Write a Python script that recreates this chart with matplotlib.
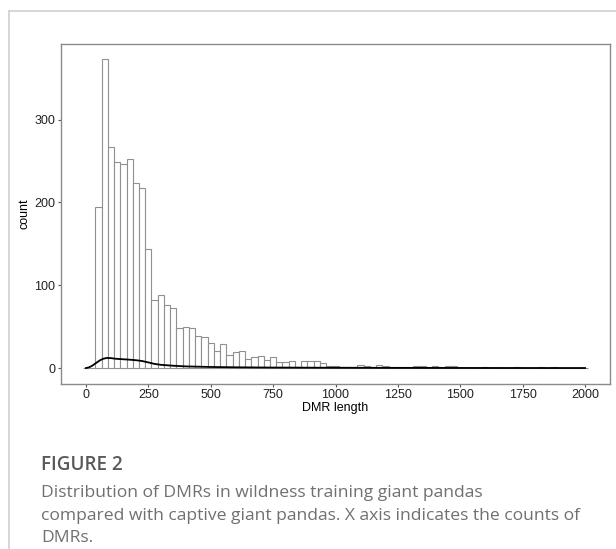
import numpy as np
import matplotlib
matplotlib.use("Agg")
import matplotlib.pyplot as plt
from matplotlib.lines import Line2D

# histogram bins (centre of each 25-wide bin) and counts
bin_centres = list(range(0, 2001, 25))
counts = [0, 0, 195, 373, 267, 249, 246, 253, 223, 217,
          144, 82, 88, 76, 72, 48, 49, 48, 39, 38,
          30, 20, 29, 16, 19, 21, 11, 13, 14, 10,
          13, 7, 7, 8, 1, 8, 8, 8, 6, 3,
          2, 1, 1, 1, 4, 3, 1, 4, 2, 1,
          1, 1, 1, 2, 3, 1, 2, 1, 3, 3,
          0, 0, 0, 0, 1, 0, 0, 0, 0, 1,
          0, 0, 0, 1, 0, 1, 0, 0, 0, 0,
          0]
bin_width = 25

# density-like line drawn over the bars
dens_x = [0, 12, 25, 40, 57, 70, 84, 100, 120, 150, 175, 200, 225, 250, 275,
          300, 350, 400, 500, 600, 750, 1000, 1250, 1500, 1750, 2000]
dens_y = [0, 0.8, 2.8, 6.0, 9.5, 11.3, 12.2, 12.0, 11.2, 10.6, 10.1, 9.5, 8.5,
          6.8, 5.0, 3.9, 2.8, 2.0, 1.3, 0.9, 0.6, 0.35, 0.2, 0.12, 0.07, 0.03]

xticks = [0, 250, 500, 750, 1000, 1250, 1500, 1750, 2000]
yticks = [0, 100, 200, 300]

plt.rcParams["font.family"] = ["Liberation Sans", "DejaVu Sans"]

fig = plt.figure(figsize=(6.16, 5.49), dpi=100)

# page frame lines (light grey)
fig.add_artist(Line2D([9 / 616, 1], [1 - 11 / 549, 1 - 11 / 549],
                      color="#d0d0d0", lw=1.2, transform=fig.transFigure))
fig.add_artist(Line2D([9 / 616, 9 / 616], [0, 1 - 11 / 549],
                      color="#d0d0d0", lw=1.2, transform=fig.transFigure))

ax = fig.add_axes([61 / 616, 1 - 383.5 / 549, 549 / 616, 339.8 / 549])

ax.bar(bin_centres, counts, width=bin_width, color="white",
       edgecolor="#909090", linewidth=0.8, zorder=2)
ax.plot(dens_x, dens_y, color="black", lw=1.3, zorder=3)

ymax = max(counts)
ax.set_xlim(-100, 2100)
ax.set_ylim(-0.05 * ymax, 1.05 * ymax)
ax.set_xticks(xticks)
ax.set_yticks(yticks)
ax.tick_params(length=2.5, width=0.8, color="#555555", labelsize=9,
               labelcolor="#222222", pad=1.5)
for s in ax.spines.values():
    s.set_color("#8a8a8a")
    s.set_linewidth(1.0)

ax.set_xlabel("DMR length", fontsize=9, color="black", labelpad=1)
ax.set_ylabel("count", fontsize=9, color="black", labelpad=3)

# caption
fig.text(41 / 616, 1 - 465 / 549, "FIGURE 2", fontsize=13.6, color="#5a5a5a",
         family="Open Sans", weight="semibold", va="center")
caption = ["Distribution of DMRs in wildness training giant pandas",
           "compared with captive giant pandas. X axis indicates the counts of",
           "DMRs."]
for i, line in enumerate(caption):
    fig.text(41 / 616, 1 - (493 + 22.5 * i) / 549, line, fontsize=12.6,
             color="#707070", family="Open Sans", va="center")

fig.savefig("out.png", dpi=100)
